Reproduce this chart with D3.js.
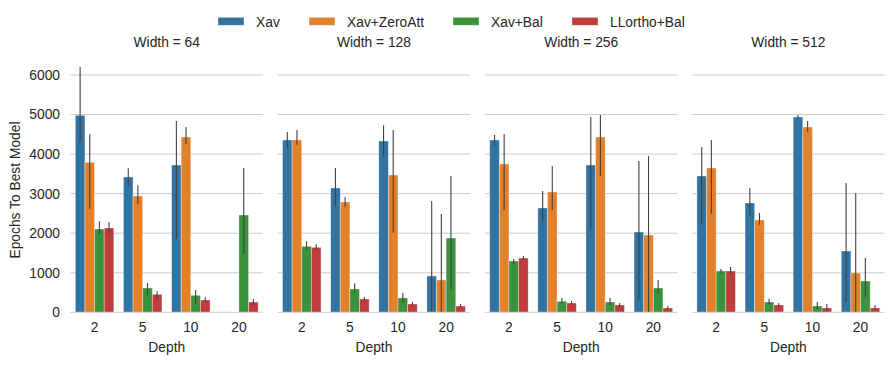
<!DOCTYPE html>
<html><head><meta charset="utf-8">
<script src="https://cdn.jsdelivr.net/npm/d3@7"></script>
<style>body{margin:0;background:#fff}svg{display:block}text{font-family:"Liberation Sans",Arial,sans-serif;fill:#262626}</style>
</head><body>
<script>
const depths = ["2","5","10","20"];
const widths = [64,128,256,512];
const methods = ["Xav","Xav+ZeroAtt","Xav+Bal","LLortho+Bal"];
const colors = ["#3274a1","#e1812c","#3a923a","#c03d3e"];
const yTicks = [0,1000,2000,3000,4000,5000,6000];

// rows = width panels, columns = depths
const xavMean = [[4980,3421,3724,null],[4357,3143,4331,918],[4357,2637,3724,2030],[3446,2764,4938,1550]];
const xavLo   = [[4314,3201,1861,null],[4137,2670,3934,0],[4213,2308,2106,311],[2215,2443,4896,260]];
const xavHi   = [[6210,3641,4837,null],[4559,3649,4728,2814],[4483,3067,4938,3826],[4180,3143,4988,3269]];

const zaMean = [[3792,2940,4432,null],[4357,2789,3472,817],[3750,3042,4432,1955],[3649,2334,4685,994]];
const zaLo   = [[2620,2746,4248,null],[4238,2670,2013,0],[2587,2587,3446,0],[2494,2215,4567,0]];
const zaHi   = [[4500,3211,4685,null],[4609,2915,4609,2486],[4508,3699,4988,3952],[4357,2511,4837,3016]];

const balMean = [[2106,614,430,2460],[1669,589,362,1878],[1297,278,260,614],[1044,260,159,791]];
const balLo   = [[1972,430,228,1482],[1583,488,235,581],[1214,228,185,463],[994,202,83,387]];
const balHi   = [[2300,741,564,3649],[1795,733,488,3446],[1348,362,362,817],[1095,345,260,1373]];

const llMean = [[2131,455,311,260],[1643,336,210,159],[1373,235,185,109],[1044,185,109,109]];
const llLo   = [[1997,336,243,185],[1575,293,152,126],[1322,185,134,66],[968,134,51,58]];
const llHi   = [[2283,539,379,336],[1719,387,268,210],[1423,286,235,159],[1145,235,210,185]];

const means = [xavMean, zaMean, balMean, llMean];
const los = [xavLo, zaLo, balLo, llLo];
const his = [xavHi, zaHi, balHi, llHi];

const W = 894, H = 365, FS = "13.8px";
const svg = d3.select("body").append("svg").attr("width", W).attr("height", H);

const y = d3.scaleLinear().domain([0, 6000]).range([312.3, 75]);
const panelX0 = 70.5, panelW = 192.5, panelStep = 207.2;

widths.forEach((wv, pi) => {
  const x0 = panelX0 + pi * panelStep;
  const x = d3.scaleBand().domain(depths).range([x0, x0 + panelW]).paddingInner(0).paddingOuter(0);
  const xs = d3.scaleBand().domain(methods).range([0, x.bandwidth() * 0.8]);
  const g = svg.append("g");

  // grid
  g.selectAll("line.grid").data(yTicks.filter(t => t > 0)).join("line")
    .attr("x1", x0).attr("x2", x0 + panelW)
    .attr("y1", d => y(d)).attr("y2", d => y(d))
    .attr("stroke", "#cccccc").attr("stroke-width", 1);

  // bars
  methods.forEach((m, mi) => {
    depths.forEach((dep, di) => {
      const v = means[mi][pi][di];
      if (v == null) return;
      const bx = x(dep) + x.bandwidth() * 0.1 + xs(m);
      g.append("rect")
        .attr("x", bx).attr("width", xs.bandwidth())
        .attr("y", y(v)).attr("height", y(0) - y(v))
        .attr("fill", colors[mi])
        .attr("stroke", "rgba(255,255,255,0.45)").attr("stroke-width", 0.8);
    });
  });
  // error bars
  methods.forEach((m, mi) => {
    depths.forEach((dep, di) => {
      const v = means[mi][pi][di];
      if (v == null) return;
      const cx = x(dep) + x.bandwidth() * 0.1 + xs(m) + xs.bandwidth() / 2;
      g.append("line")
        .attr("x1", cx).attr("x2", cx)
        .attr("y1", y(los[mi][pi][di])).attr("y2", y(his[mi][pi][di]))
        .attr("stroke", "#424242").attr("stroke-width", 1.1);
    });
  });

  // bottom spine
  g.append("line").attr("x1", x0).attr("x2", x0 + panelW)
    .attr("y1", y(0)).attr("y2", y(0)).attr("stroke", "#cccccc").attr("stroke-width", 1);

  // x axis labels
  const xa = g.append("g").attr("transform", `translate(0,${y(0)})`)
    .call(d3.axisBottom(x).tickSize(0).tickPadding(0));
  xa.select(".domain").remove();
  xa.selectAll("text").attr("dy", null).attr("y", 19.5).style("font-size", FS).attr("fill", "#262626");

  g.append("text").attr("x", x0 + panelW / 2).attr("y", 352)
    .attr("text-anchor", "middle").style("font-size", FS).text("Depth");

  g.append("text").attr("x", x0 + panelW / 2).attr("y", 46.5)
    .attr("text-anchor", "middle").style("font-size", FS).text("Width = " + wv);

  if (pi === 0) {
    const ya = g.append("g").attr("transform", `translate(${x0},0)`)
      .call(d3.axisLeft(y).tickValues(yTicks).tickSize(0).tickPadding(10.5).tickFormat(d3.format("d")));
    ya.select(".domain").remove();
    ya.selectAll("text").style("font-size", FS).attr("fill", "#262626");
  }
});

svg.append("text").attr("transform", "translate(20,190) rotate(-90)")
  .attr("text-anchor", "middle").style("font-size", FS).text("Epochs To Best Model");

// legend
const legX = [218, 309, 453, 572];
methods.forEach((m, i) => {
  svg.append("rect").attr("x", legX[i]).attr("y", 17.3).attr("width", 26).attr("height", 8)
    .attr("fill", colors[i]).attr("stroke", "rgba(255,255,255,0.45)").attr("stroke-width", 0.8);
  svg.append("text").attr("x", legX[i] + 38).attr("y", 26.5).style("font-size", FS).text(m);
});
</script>
</body></html>
